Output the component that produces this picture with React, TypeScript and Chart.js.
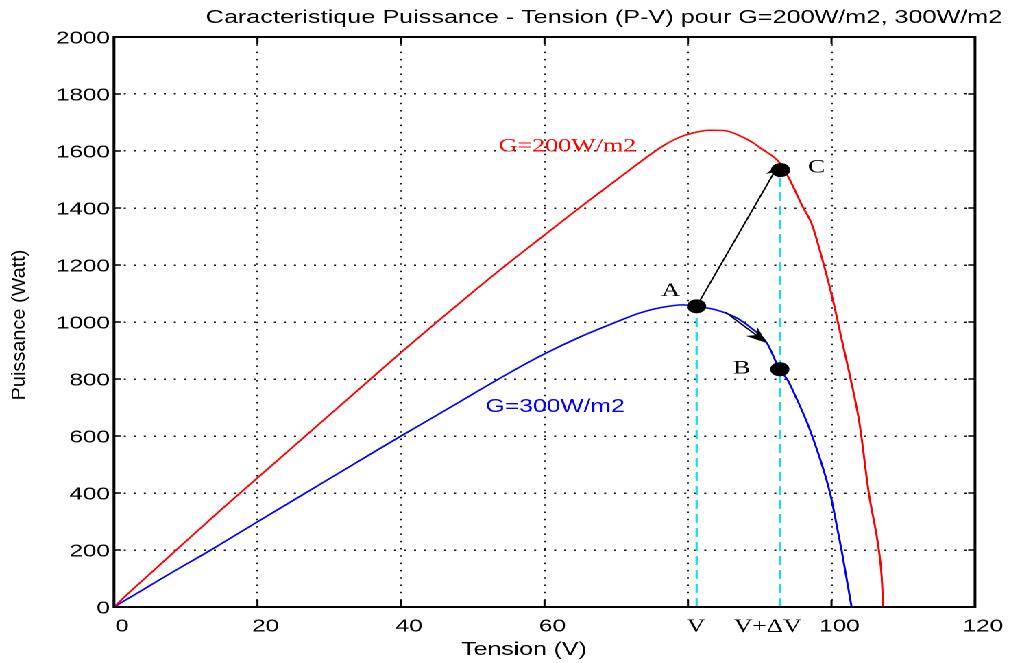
import React, { useEffect, useRef } from 'react';
import { Chart, registerables } from 'chart.js';

Chart.register(...registerables);

// horizontal stretch of the original picture
const W0 = 736;
const H0 = 663;
const S = 1009 / W0;

const SANS = "'Liberation Sans', Arial, Helvetica, sans-serif";
const SERIF = "'Liberation Serif', 'Times New Roman', serif";

// ---- data ----
const redV = [0, 2, 5, 10, 15, 20, 25, 30, 35, 40, 45, 50, 55, 60, 65, 70, 75, 77, 79, 81, 83, 85, 87, 89, 90, 92.8, 94.2, 96, 97.2, 98.5, 100.2, 101.5, 102.7, 103.9, 105.2, 106.6, 107, 107.2];
const redP = [0, 48, 116, 230, 343, 453, 563, 673, 783, 893, 1000, 1105, 1207, 1305, 1403, 1498, 1592, 1625, 1650, 1665, 1673, 1672, 1656, 1630, 1612, 1558, 1498, 1404, 1347, 1240, 1077, 930, 796, 645, 400, 200, 105, 0];

const blueV = [0, 2, 5, 8, 13.5, 20, 26.7, 33, 40, 45, 50, 55, 60, 65, 70, 73.3, 76.1, 79.3, 81.2, 84, 86.8, 88.6, 91, 92.8, 93.9, 94.9, 97, 99.8, 100.9, 101.4, 102.8];
const blueP = [0, 30, 75, 120, 200, 299, 400, 495, 600, 673, 747, 820, 888, 948, 1000, 1032, 1050, 1060, 1055, 1042, 1014, 983, 926, 832, 796, 744, 621, 400, 264, 200, 0];

const seriesLabels = ['G=200W/m2', 'G=300W/m2'];
const curveLabelV = [63.2, 61.5];
const curveLabelP = [1598, 685];

const pointNames = ['A', 'B', 'C'];
const pointV = [81.2, 92.8, 92.9];
const pointP = [1055, 834, 1533];
const letterV = [77.6, 87.5, 97.9];
const letterP = [1091, 820, 1524];

const dropV = [81.2, 92.8];
const dropTopP = [1055, 1533];

const arrowFromV = [81.2, 85.2];
const arrowFromP = [1055, 1035];
const arrowToV = [92.7, 91.0];
const arrowToP = [1555, 926];
const arrowHeadLen = [13, 16];
const arrowHeadHalf = [5, 6];

const xTickValues = [0, 20, 40, 60, 80, 90, 100, 120];
const xTickLabels = ['0', '20', '40', '60', 'V', 'V+ΔV', '100', '120'];
const yTickValues = [0, 200, 400, 600, 800, 1000, 1200, 1400, 1600, 1800, 2000];

const titleText = 'Caracteristique Puissance - Tension (P-V) pour G=200W/m2, 300W/m2';
const xTitle = 'Tension (V)';
const yTitle = 'Puissance (Watt)';

function drawArrow(ctx: CanvasRenderingContext2D, x1: number, y1: number, x2: number, y2: number, len: number, half: number) {
  const ang = Math.atan2(y2 - y1, x2 - x1);
  const ux = Math.cos(ang);
  const uy = Math.sin(ang);
  const bx = x2 - ux * len;
  const by = y2 - uy * len;
  const nx = x2 - ux * len * 0.7;
  const ny = y2 - uy * len * 0.7;
  ctx.beginPath();
  ctx.moveTo(x1, y1);
  ctx.lineTo(nx, ny);
  ctx.stroke();
  ctx.beginPath();
  ctx.moveTo(x2, y2);
  ctx.lineTo(bx - uy * half, by + ux * half);
  ctx.lineTo(nx, ny);
  ctx.lineTo(bx + uy * half, by - ux * half);
  ctx.closePath();
  ctx.fill();
}

const decorPlugin = {
  id: 'decor',
  afterDatasetsDraw(chart: any) {
    const { ctx, scales } = chart;
    const x = scales.x;
    const y = scales.y;
    ctx.save();
    ctx.strokeStyle = '#000';
    ctx.fillStyle = '#000';
    ctx.lineWidth = 1.2;
    for (let i = 0; i < arrowFromV.length; i++) {
      drawArrow(
        ctx,
        x.getPixelForValue(arrowFromV[i]),
        y.getPixelForValue(arrowFromP[i]),
        x.getPixelForValue(arrowToV[i]),
        y.getPixelForValue(arrowToP[i]),
        arrowHeadLen[i],
        arrowHeadHalf[i]
      );
    }
    // letters
    ctx.font = `19px ${SERIF}`;
    ctx.textAlign = 'center';
    ctx.textBaseline = 'alphabetic';
    ctx.fillStyle = '#000';
    for (let i = 0; i < pointNames.length; i++) {
      ctx.fillText(pointNames[i], x.getPixelForValue(letterV[i]), y.getPixelForValue(letterP[i]));
    }
    // curve labels
    ctx.fillStyle = '#ff0000';
    ctx.font = `19px ${SERIF}`;
    ctx.fillText(seriesLabels[0], x.getPixelForValue(curveLabelV[0]), y.getPixelForValue(curveLabelP[0]));
    ctx.fillStyle = '#0000ff';
    ctx.font = `18px ${SANS}`;
    ctx.fillText(seriesLabels[1], x.getPixelForValue(curveLabelV[1]), y.getPixelForValue(curveLabelP[1]));
    ctx.restore();
  },
  afterDraw(chart: any) {
    const { ctx, chartArea: ca, scales } = chart;
    const x = scales.x;
    const y = scales.y;
    ctx.save();
    // box
    ctx.strokeStyle = '#000';
    ctx.lineWidth = 2;
    ctx.setLineDash([]);
    ctx.strokeRect(ca.left, ca.top, ca.right - ca.left, ca.bottom - ca.top);
    // inward ticks
    ctx.lineWidth = 1.5;
    ctx.beginPath();
    xTickValues.forEach((v) => {
      if (v === 90) return;
      const px = x.getPixelForValue(v);
      ctx.moveTo(px, ca.bottom);
      ctx.lineTo(px, ca.bottom - 7);
      ctx.moveTo(px, ca.top);
      ctx.lineTo(px, ca.top + 7);
    });
    yTickValues.forEach((v) => {
      const py = y.getPixelForValue(v);
      ctx.moveTo(ca.left, py);
      ctx.lineTo(ca.left + 5, py);
      ctx.moveTo(ca.right, py);
      ctx.lineTo(ca.right - 5, py);
    });
    ctx.stroke();
    // titles
    ctx.fillStyle = '#000';
    ctx.textAlign = 'center';
    ctx.textBaseline = 'alphabetic';
    ctx.font = `18.4px ${SANS}`;
    ctx.fillText(titleText, 604 / S, 23);
    ctx.font = `18.1px ${SANS}`;
    ctx.fillText(xTitle, 524 / S, 655);
    ctx.save();
    ctx.translate(25 / S, (ca.top + ca.bottom) / 2 + 3);
    ctx.rotate(-Math.PI / 2);
    ctx.scale(1, 0.68);
    ctx.font = `19.9px ${SANS}`;
    ctx.fillText(yTitle, 0, 0);
    ctx.restore();
    ctx.restore();
  },
};

export default function App() {
  const canvasRef = useRef<HTMLCanvasElement | null>(null);

  useEffect(() => {
    if (!canvasRef.current) return;
    const redData = redV.map((v, i) => ({ x: v, y: redP[i] }));
    const blueData = blueV.map((v, i) => ({ x: v, y: blueP[i] }));
    const dotData = pointV.map((v, i) => ({ x: v, y: pointP[i] }));
    const cyanSets = dropV.map((v, i) => ({
      label: 'drop' + i,
      data: [
        { x: v, y: 0 },
        { x: v, y: dropTopP[i] },
      ],
      borderColor: '#14def0',
      borderWidth: 1.6,
      borderDash: [9, 5],
      pointRadius: 0,
      order: 1,
    }));

    const chart = new Chart(canvasRef.current, {
      type: 'line',
      data: {
        datasets: [
          {
            label: 'points',
            data: dotData,
            showLine: false,
            pointRadius: 7,
            pointBackgroundColor: '#000',
            pointBorderWidth: 0,
            order: 0,
          } as any,
          ...cyanSets,
          {
            label: seriesLabels[0],
            data: redData,
            borderColor: '#ff0000',
            borderWidth: 1.5,
            pointRadius: 0,
            cubicInterpolationMode: 'monotone',
            order: 2,
          },
          {
            label: seriesLabels[1],
            data: blueData,
            borderColor: '#0000ff',
            borderWidth: 1.5,
            pointRadius: 0,
            cubicInterpolationMode: 'monotone',
            order: 2,
          },
        ],
      },
      options: {
        animation: false,
        responsive: true,
        maintainAspectRatio: false,
        devicePixelRatio: 2,
        events: [],
        layout: { padding: { left: 0, right: W0 - 975 / S, top: 37, bottom: 0 } },
        plugins: {
          legend: { display: false },
          title: { display: false },
          tooltip: { enabled: false },
        },
        scales: {
          x: {
            type: 'linear',
            min: 0,
            max: 120,
            afterBuildTicks: (axis: any) => {
              axis.ticks = xTickValues.map((v) => ({ value: v }));
            },
            afterFit: (s: any) => {
              s.height = H0 - 607;
            },
            grid: {
              drawTicks: false,
              lineWidth: 1.5,
              color: (c: any) => (c.tick && (c.tick.value === 90 || c.tick.value === 0 || c.tick.value === 120) ? 'rgba(0,0,0,0)' : 'rgba(0,0,0,0.9)'),
            },
            border: { display: false, dash: [1.5, 5.8] },
            ticks: {
              autoSkip: false,
              maxRotation: 0,
              minRotation: 0,
              padding: 9,
              labelOffset: 8 / S,
              color: '#000',
              font: (c: any) =>
                c.tick && (c.tick.value === 80 || c.tick.value === 90)
                  ? { family: SERIF, size: 18.6 }
                  : { family: SANS, size: 17.7 },
              callback: (v: any) => xTickLabels[xTickValues.indexOf(Number(v))],
            },
          },
          y: {
            type: 'linear',
            min: 0,
            max: 2000,
            afterBuildTicks: (axis: any) => {
              axis.ticks = yTickValues.map((v) => ({ value: v }));
            },
            afterFit: (s: any) => {
              s.width = 114 / S;
            },
            grid: {
              drawTicks: false,
              lineWidth: 1.5,
              color: (c: any) => (c.tick && (c.tick.value === 0 || c.tick.value === 2000) ? 'rgba(0,0,0,0)' : 'rgba(0,0,0,0.9)'),
            },
            border: { display: false, dash: [1.5, 5.8] },
            ticks: {
              padding: 3,
              labelOffset: 1.5,
              color: '#000',
              font: { family: SANS, size: 17.7 },
              callback: (v: any) => String(v),
            },
          },
        },
      },
      plugins: [decorPlugin],
    } as any);

    return () => {
      chart.destroy();
    };
  }, []);

  return (
    <div
      style={{
        position: 'fixed',
        left: 0,
        top: 0,
        width: W0 + 'px',
        height: H0 + 'px',
        transform: `scaleX(${S})`,
        transformOrigin: '0 0',
        background: '#fff',
      }}
    >
      <canvas ref={canvasRef} />
    </div>
  );
}
